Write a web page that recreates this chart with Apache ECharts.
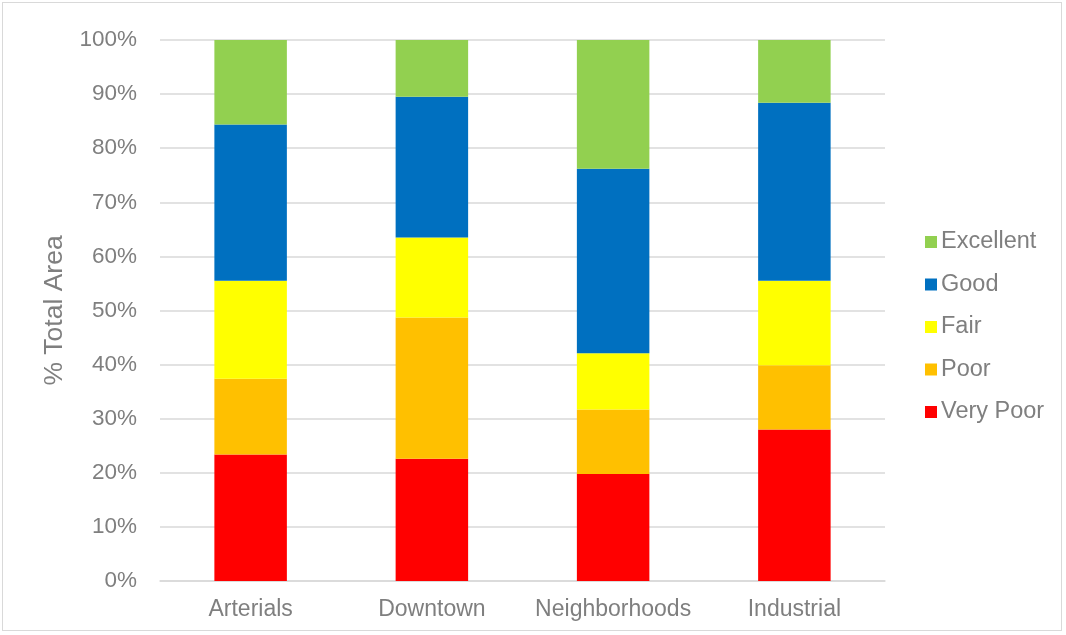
<!DOCTYPE html>
<html>
<head>
<meta charset="utf-8">
<script src="https://cdn.jsdelivr.net/npm/echarts@6/dist/echarts.min.js"></script>
<style>
html,body{margin:0;padding:0;background:#fff;}
#frame{position:absolute;left:2px;top:2px;width:1060px;height:629px;border:1px solid #d9d9d9;box-sizing:border-box;}
#chart{position:absolute;left:0;top:0;width:1066px;height:635px;}
</style>
</head>
<body>
<div id="frame"></div>
<div id="chart"></div>
<script>
const categories = ['Arterials', 'Downtown', 'Neighborhoods', 'Industrial'];
const veryPoor  = [23.4, 22.6, 19.8, 28.0];
const poor      = [14.0, 26.1, 11.9, 11.9];
const fair      = [18.1, 14.8, 10.4, 15.6];
const good      = [28.9, 26.0, 34.1, 32.9];
const excellent = [15.6, 10.5, 23.8, 11.6];
const yTicks = [0, 10, 20, 30, 40, 50, 60, 70, 80, 90, 100];

const font = 'Liberation Sans, Arial, sans-serif';
const gray = '#7f7f7f';

function s(name, data, color) {
  return { name, type: 'bar', stack: 'total', data, barWidth: '40%',
    itemStyle: { color }, emphasis: { disabled: true } };
}

const chart = echarts.init(document.getElementById('chart'), null, { renderer: 'canvas' });
chart.setOption({
  animation: false,
  textStyle: { fontFamily: font },
  grid: { left: 160, right: 181, top: 40, bottom: 54, containLabel: false },
  legend: {
    orient: 'vertical', left: 920, top: 225,
    data: ['Excellent', 'Good', 'Fair', 'Poor', 'Very Poor'],
    itemWidth: 12, itemHeight: 12, itemGap: 18.5,
    icon: 'rect',
    textStyle: { color: gray, fontSize: 23.5, fontFamily: font, padding: [0, 0, 0, -1] }
  },
  xAxis: {
    type: 'category', data: categories,
    axisLine: { lineStyle: { color: '#d9d9d9', width: 1.5 } },
    axisTick: { show: false },
    axisLabel: { color: gray, fontSize: 23, margin: 17, fontFamily: font, interval: 0 }
  },
  yAxis: {
    type: 'value', min: 0, max: 100, interval: 10,
    name: '% Total Area', nameLocation: 'middle', nameGap: 92,
    nameTextStyle: { color: gray, fontSize: 26.5, fontFamily: font },
    axisLine: { show: false }, axisTick: { show: false },
    splitLine: { lineStyle: { color: '#d9d9d9', width: 1.5 } },
    axisLabel: { color: gray, fontSize: 22.5, margin: 23, fontFamily: font,
      formatter: v => yTicks.includes(v) ? v + '%' : '' }
  },
  series: [
    s('Very Poor', veryPoor, '#FF0000'),
    s('Poor', poor, '#FFC000'),
    s('Fair', fair, '#FFFF00'),
    s('Good', good, '#0070C0'),
    s('Excellent', excellent, '#92D050')
  ]
});
</script>
</body>
</html>
